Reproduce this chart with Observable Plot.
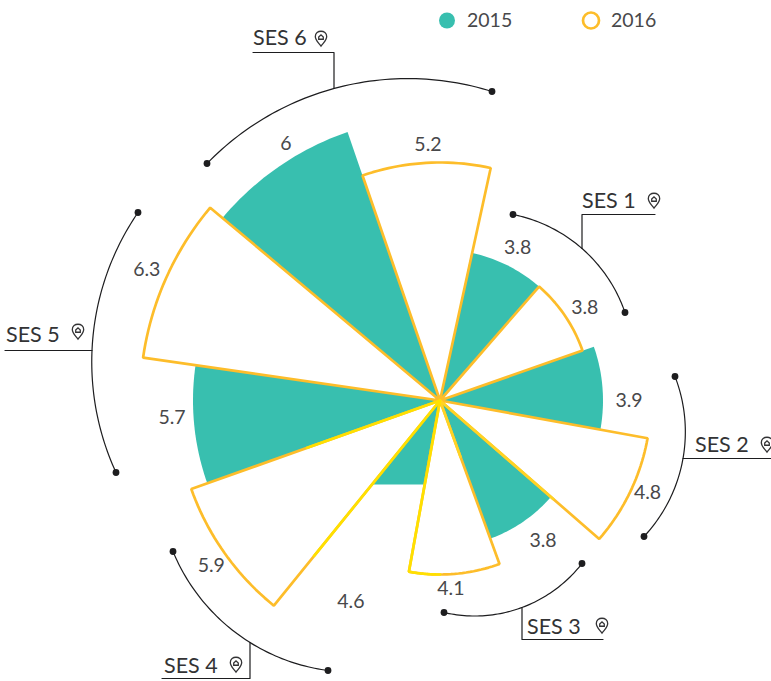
<!DOCTYPE html>
<html>
<head>
<meta charset="utf-8">
<style>html,body{margin:0;padding:0;background:#fff}svg{display:block}</style>
<script src="https://cdn.jsdelivr.net/npm/d3@7"></script>
<script src="https://cdn.jsdelivr.net/npm/@observablehq/plot@0.6"></script>
</head>
<body>
<script>
// ---------- data ----------
const groups = ["SES 1", "SES 2", "SES 3", "SES 4", "SES 5", "SES 6"];
const years = ["2015", "2016"];
// unrounded values: the printed labels are rounded to two significant digits
const values2015 = [3.83, 3.9, 3.77, 4.6, 5.7, 6];
const values2016 = [3.83, 4.8, 4.1, 5.9, 6.3, 5.2];
// ---------- layout ----------
// wedge boundaries, degrees clockwise from north
const wedgeEdges = [12, 41, 70.7, 100.3, 131, 160, 190.3, 219, 250.4, 278.2, 310, 341, 372.3];
// radial scale stops: value -> chart units
const radialDomain = [3.77, 3.83, 3.9, 4.1, 4.6, 4.8, 5.2, 5.7, 5.9, 6, 6.3];
const radialRange = [147, 151, 163, 174, 198, 211, 238, 247, 264, 284, 300];
const ses4FlatDepth = 84; // the 2015 SES 4 wedge is cut off flat in the reference
const teal = "#38bfaf", orange = "#fdbd2a", yellow = "#ffe000", softYellow = "#ffd324", ink = "#333335", dark = "#1d1d1f";

const radial = d3.scaleLinear().domain(radialDomain).range(radialRange);
const polar = (deg, r) => {
  const a = deg * Math.PI / 180;
  return {x: r * Math.sin(a), y: -r * Math.cos(a)};
};
const arcPts = (a0, a1, r) => d3.range(0, 25).map(i => polar(a0 + (a1 - a0) * i / 24, r));

// wedges
const teals = groups.map((g, i) => {
  const a0 = wedgeEdges[2 * i], a1 = wedgeEdges[2 * i + 1], r = radial(values2015[i]);
  let pts = arcPts(a0, a1, r);
  if (g === "SES 4") pts = pts.map(p => p.y > ses4FlatDepth ? {x: p.x * ses4FlatDepth / p.y, y: ses4FlatDepth} : p);
  return [{x: 0, y: 0}, ...pts, {x: 0, y: 0}].map(p => ({...p, g}));
}).flat();
const outlines = groups.map((g, i) => {
  const a0 = wedgeEdges[2 * i + 1], a1 = wedgeEdges[2 * i + 2], r = radial(values2016[i]);
  return [{x: 0, y: 0}, ...arcPts(a0, a1, r), {x: 0, y: 0}].map(p => ({...p, g}));
}).flat();

// parts of the 2016 outlines that shift to yellow in the reference
const r41 = radial(values2016[2]);
const yellowRuns = [
  [{x: 0, y: 0}, ...arcPts(190.3, 180, r41)].map(p => ({...p, g: "a"})),
  [polar(219, 200), {x: 0, y: 0}, polar(250.4, 141)].map(p => ({...p, g: "b"}))
].flat();
const softRuns = [polar(131, 150), {x: 0, y: 0}, polar(160, 60)];

// value labels
const valueLabelPolar = [
  [27, 171], [57.3, 172], [90, 189], [113.9, 227], [143.7, 174], [176.7, 189],
  [203.9, 220], [234.2, 282], [266.4, 268.5], [294, 321], [329, 299], [357.3, 256]
];
const labelValues = groups.flatMap((g, i) => [values2015[i], values2016[i]]);
const fmt = d3.format(".2~r");
const valueLabels = labelValues.map((v, i) => ({...polar(...valueLabelPolar[i]), t: fmt(v)}));

// bracket arcs: start, join with leader and end, as chart x/y offsets from the wedge centre
const brackets = [
  {s: [73, -186], m: [142, -152], e: [185, -88], elbow: [142, -186], end: [215, -186], label: [142, -199], pin: [214, -200]},
  {s: [235, -24], m: [243, 58], e: [204, 136], elbow: [243, 58], end: [331, 58], label: [255, 45], pin: [327, 44]},
  {s: [142, 163], m: [82, 207], e: [4, 212], elbow: [82, 239], end: [163, 239], label: [87, 227], pin: [162, 225]},
  {s: [-267, 151], m: [-190, 242], e: [-112, 270], elbow: [-190, 278], end: [-278, 278], label: [-276, 266], pin: [-204, 264]},
  {s: [-302, -188], m: [-348, -50], e: [-324, 72], elbow: [-348, -50], end: [-435, -50], label: [-434, -65], pin: [-362, -69]},
  {s: [-233, -237], m: [-106, -312], e: [52, -309], elbow: [-106, -348], end: [-187, -348], label: [-187, -362], pin: [-119, -362]}
];
function circleArc([ax, ay], [bx, by], [cx, cy]) {
  const d = 2 * (ax * (by - cy) + bx * (cy - ay) + cx * (ay - by));
  const ux = ((ax*ax+ay*ay)*(by-cy)+(bx*bx+by*by)*(cy-ay)+(cx*cx+cy*cy)*(ay-by)) / d;
  const uy = ((ax*ax+ay*ay)*(cx-bx)+(bx*bx+by*by)*(ax-cx)+(cx*cx+cy*cy)*(bx-ax)) / d;
  const r = Math.hypot(ax - ux, ay - uy);
  const t0 = Math.atan2(ay - uy, ax - ux);
  let t1 = Math.atan2(cy - uy, cx - ux), tm = Math.atan2(by - uy, bx - ux);
  const norm = t => { while (t < t0) t += 2 * Math.PI; return t; };
  t1 = norm(t1); tm = norm(tm);
  if (tm > t1) t1 -= 2 * Math.PI;
  return d3.range(0, 61).map(i => {
    const t = t0 + (t1 - t0) * i / 60;
    return {x: ux + r * Math.cos(t), y: uy + r * Math.sin(t)};
  });
}
const arcLines = brackets.flatMap((b, i) => circleArc(b.s, b.m, b.e).map(p => ({...p, g: groups[i]})));
const arcEnds = brackets.flatMap(b => [b.s, b.e]).map(([x, y]) => ({x, y}));
const leaders = brackets.flatMap((b, i) => [b.m, b.elbow, b.end].map(([x, y]) => ({x, y, g: groups[i]})));
const groupLabels = brackets.map((b, i) => ({x: b.label[0], y: b.label[1], t: groups[i]}));
const pins = brackets.map(b => ({x: b.pin[0], y: b.pin[1]}));

// pin with a small house, as a custom dot symbol
const pinSymbol = {
  draw(c, size) {
    const k = Math.sqrt(size) / 14;
    c.moveTo(0, 8 * k);
    c.bezierCurveTo(-3 * k, 4 * k, -6 * k, 2 * k, -6 * k, -2 * k);
    c.bezierCurveTo(-6 * k, -9.5 * k, 6 * k, -9.5 * k, 6 * k, -2 * k);
    c.bezierCurveTo(6 * k, 2 * k, 3 * k, 4 * k, 0, 8 * k);
    c.closePath();
    c.moveTo(-2.4 * k, -1.6 * k);
    c.lineTo(0, -3.8 * k);
    c.lineTo(2.4 * k, -1.6 * k);
    c.lineTo(2.4 * k, 0.8 * k);
    c.lineTo(-2.4 * k, 0.8 * k);
    c.closePath();
  }
};

const legendDots = [{x: 7, y: -380, year: years[0]}, {x: 151, y: -380, year: years[1]}];
const font = "Lato, 'Noto Sans', sans-serif";

const chart = Plot.plot({
  width: 771,
  height: 681,
  margin: 0,
  style: {background: "#fff", fontFamily: font},
  x: {domain: [-439.5, 331.5], range: [0, 771], axis: null},
  y: {domain: [-400, 281], range: [0, 681], axis: null},
  marks: [
    Plot.line(teals, {x: "x", y: "y", z: "g", fill: teal, stroke: "none", curve: "linear"}),
    Plot.line(outlines, {x: "x", y: "y", z: "g", stroke: orange, strokeWidth: 2.7, fill: "none", strokeLinejoin: "miter", curve: "linear"}),
    Plot.line(softRuns, {x: "x", y: "y", stroke: softYellow, strokeWidth: 2.7, curve: "linear"}),
    Plot.line(yellowRuns, {x: "x", y: "y", z: "g", stroke: yellow, strokeWidth: 2.7, strokeLinejoin: "miter", curve: "linear"}),
    Plot.line(arcLines, {x: "x", y: "y", z: "g", stroke: dark, strokeWidth: 1.2}),
    Plot.dot(arcEnds, {x: "x", y: "y", r: 3.4, fill: dark}),
    Plot.line(leaders, {x: "x", y: "y", z: "g", stroke: dark, strokeWidth: 1.2, curve: "linear"}),
    Plot.text(valueLabels, {x: "x", y: "y", text: "t", fontSize: 19.5, fontWeight: 400, fill: "#48484a"}),
    Plot.text(groupLabels, {x: "x", y: "y", text: "t", fontSize: 21.5, fontWeight: 400, fill: ink, textAnchor: "start"}),
    Plot.dot(pins, {x: "x", y: "y", symbol: pinSymbol, r: 7.5, stroke: ink, strokeWidth: 1.3, fill: "none"}),
    Plot.dot([legendDots[0]], {x: "x", y: "y", r: 8, fill: teal}),
    Plot.dot([legendDots[1]], {x: "x", y: "y", r: 8, stroke: orange, strokeWidth: 2.7, fill: "none"}),
    Plot.text(legendDots, {x: "x", y: "y", dx: 20, dy: 0.5, text: "year", fontSize: 19.5, fontWeight: 400, fill: "#48484a", textAnchor: "start"})
  ]
});
document.body.appendChild(chart);
</script>
</body>
</html>
